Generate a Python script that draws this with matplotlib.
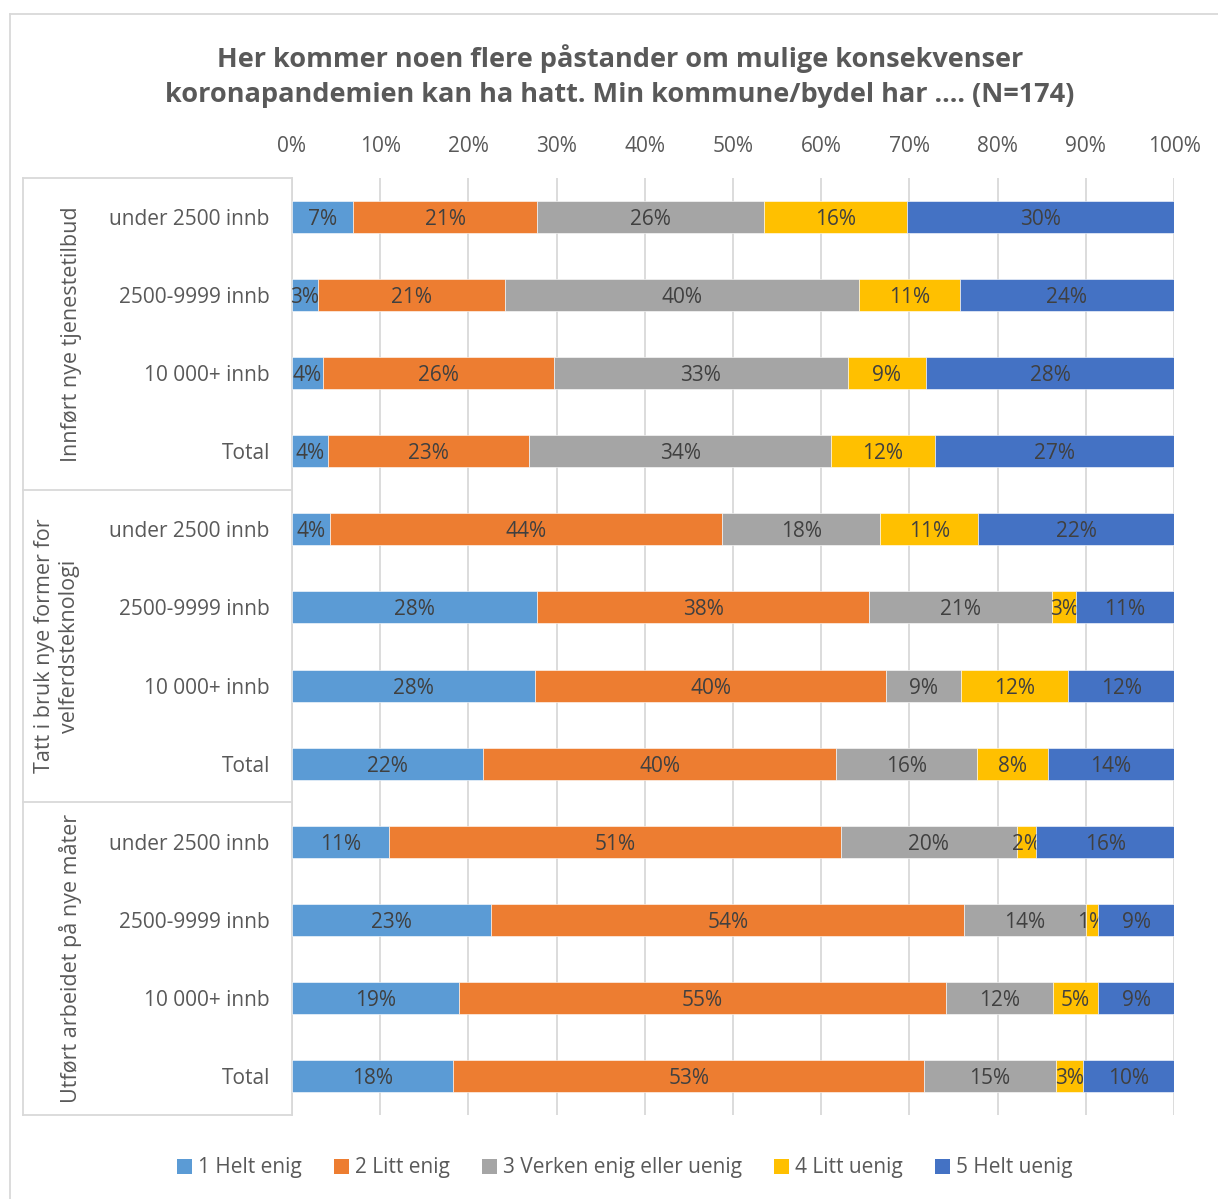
import matplotlib
matplotlib.use("Agg")
import matplotlib.pyplot as plt
from matplotlib.lines import Line2D
from matplotlib.patches import Patch
import numpy as np

plt.rcParams['font.family'] = ['Open Sans', 'DejaVu Sans']

# ---------- data (share of answers, %) ----------
rows = ["under 2500 innb", "2500-9999 innb", "10 000+ innb", "Total"] * 3
groups = ["Innført nye tjenestetilbud",
          "Tatt i bruk nye former for\nvelferdsteknologi",
          "Utført arbeidet på nye måter"]
answers = ["1 Helt enig", "2 Litt enig", "3 Verken enig eller uenig",
           "4 Litt uenig", "5 Helt uenig"]
helt_enig = [6.9, 2.9, 3.5, 4.1, 4.3, 27.8, 27.6, 21.7, 11.0, 22.6, 18.9, 18.3]
litt_enig = [20.9, 21.2, 26.2, 22.8, 44.5, 37.6, 39.7, 40.0, 51.2, 53.6, 55.2, 53.4]
verken = [25.7, 40.2, 33.3, 34.2, 17.9, 20.8, 8.6, 16.0, 20.0, 13.8, 12.2, 14.9]
litt_uenig = [16.2, 11.4, 8.9, 11.8, 11.1, 2.7, 12.1, 8.0, 2.2, 1.4, 5.1, 3.1]
helt_uenig = [30.3, 24.3, 28.1, 27.1, 22.2, 11.1, 12.0, 14.3, 15.6, 8.6, 8.6, 10.3]

series = [helt_enig, litt_enig, verken, litt_uenig, helt_uenig]
colors = ["#5B9BD5", "#ED7D31", "#A5A5A5", "#FFC000", "#4472C4"]

W, H = 1218, 1199
fig = plt.figure(figsize=(W / 100, H / 100), dpi=100)
ax = fig.add_axes([292 / W, 1 - 1115 / H, (1174 - 292) / W, (1115 - 178) / H])

y = np.arange(len(rows))
left = np.zeros(len(rows))
for vals, col, name in zip(series, colors, answers):
    vals = np.array(vals)
    bars = ax.barh(y, vals, left=left, height=0.41, color=col,
                   edgecolor="white", linewidth=0.4, label=name, zorder=3)
    texts = ax.bar_label(bars, labels=[f"{v:.0f}%" for v in vals],
                         label_type="center", color="#404040", fontsize=15)
    for t in texts:
        t.set_va("center_baseline")
    left += vals

ax.set_xlim(0, 100)
ax.set_ylim(len(rows) - 0.5, -0.5)
ax.set_xticks(np.arange(0, 101, 10))
ax.set_xticklabels([f"{t}%" for t in range(0, 101, 10)])
ax.xaxis.tick_top()
ax.tick_params(axis="x", length=0, pad=15, labelsize=15, labelcolor="#595959")
ax.grid(axis="x", color="#D9D9D9", linewidth=1.3, zorder=0)
ax.set_yticks(y)
ax.set_yticklabels(rows)
ax.tick_params(axis="y", length=0, pad=16, labelsize=15, labelcolor="#595959")
for s in ["top", "right", "bottom"]:
    ax.spines[s].set_visible(False)
ax.spines["left"].set_color("#D9D9D9")
ax.spines["left"].set_linewidth(1.3)

# boxes around the grouped category labels
def px(xp, yp):
    return xp / W, 1 - yp / H

line_kw = dict(color="#D9D9D9", linewidth=1.3)
for yy in [178, 490, 802, 1115]:
    (x0, y0), (x1, y1) = px(23, yy), px(292, yy)
    fig.add_artist(Line2D([x0, x1], [y0, y1], **line_kw))
(x0, y0), (x1, y1) = px(23, 178), px(23, 1115)
fig.add_artist(Line2D([x0, x1], [y0, y1], **line_kw))

for i, g in enumerate(groups):
    yc = (178 + 312 * i + 156)
    gx = 71 if "\n" not in g else 57
    fig.text(*px(gx, yc), g, rotation=90, ha="center", va="center",
             fontsize=15.5, color="#595959", linespacing=1.3)

# outer chart border
fig.add_artist(Line2D([10 / W, 10 / W], [0, 1 - 14 / H], **line_kw))
fig.add_artist(Line2D([10 / W, 1], [1 - 14 / H, 1 - 14 / H], **line_kw))

fig.text(*px(620, 76), "Her kommer noen flere påstander om mulige konsekvenser\n"
         "koronapandemien kan ha hatt. Min kommune/bydel har .... (N=174)",
         ha="center", va="center", fontsize=19.5, fontweight="bold",
         color="#595959", linespacing=1.45)

handles = [Patch(facecolor=c, label=a) for c, a in zip(colors, answers)]
fig.legend(handles=handles, loc="center", bbox_to_anchor=px(625, 1168),
           ncol=5, frameon=False, fontsize=15, labelcolor="#595959",
           handlelength=0.7, handleheight=0.7, handletextpad=0.3,
           columnspacing=1.55)

fig.savefig("out.png", dpi=100)
